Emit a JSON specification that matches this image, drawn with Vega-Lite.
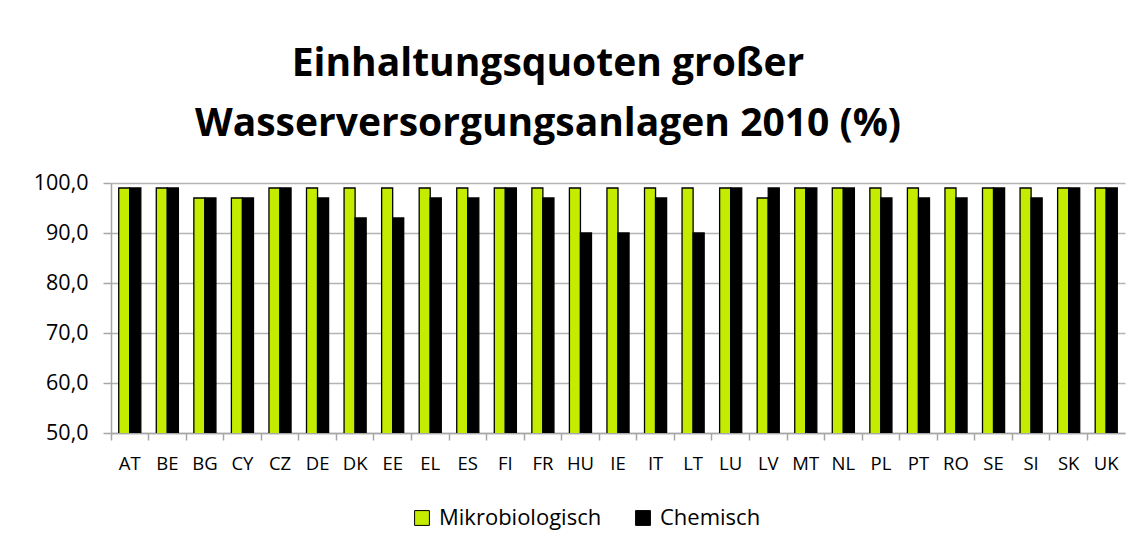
{
  "$schema": "https://vega.github.io/schema/vega-lite/v6.json",
  "width": 1014,
  "height": 250,
  "autosize": {"type": "none"},
  "padding": {"left": 111, "top": 183, "right": 18, "bottom": 116},
  "background": "white",
  "title": {
    "text": ["Einhaltungsquoten großer", "Wasserversorgungsanlagen 2010 (%)"],
    "font": "Open Sans",
    "fontSize": 39,
    "fontWeight": "bold",
    "color": "#000000",
    "anchor": "middle",
    "dx": -70,
    "offset": 28,
    "lineHeight": 60
  },
  "data": {
    "values": [
      {"land": "AT", "typ": "Mikrobiologisch", "wert": 99},
      {"land": "AT", "typ": "Chemisch", "wert": 99},
      {"land": "BE", "typ": "Mikrobiologisch", "wert": 99},
      {"land": "BE", "typ": "Chemisch", "wert": 99},
      {"land": "BG", "typ": "Mikrobiologisch", "wert": 97},
      {"land": "BG", "typ": "Chemisch", "wert": 97},
      {"land": "CY", "typ": "Mikrobiologisch", "wert": 97},
      {"land": "CY", "typ": "Chemisch", "wert": 97},
      {"land": "CZ", "typ": "Mikrobiologisch", "wert": 99},
      {"land": "CZ", "typ": "Chemisch", "wert": 99},
      {"land": "DE", "typ": "Mikrobiologisch", "wert": 99},
      {"land": "DE", "typ": "Chemisch", "wert": 97},
      {"land": "DK", "typ": "Mikrobiologisch", "wert": 99},
      {"land": "DK", "typ": "Chemisch", "wert": 93},
      {"land": "EE", "typ": "Mikrobiologisch", "wert": 99},
      {"land": "EE", "typ": "Chemisch", "wert": 93},
      {"land": "EL", "typ": "Mikrobiologisch", "wert": 99},
      {"land": "EL", "typ": "Chemisch", "wert": 97},
      {"land": "ES", "typ": "Mikrobiologisch", "wert": 99},
      {"land": "ES", "typ": "Chemisch", "wert": 97},
      {"land": "FI", "typ": "Mikrobiologisch", "wert": 99},
      {"land": "FI", "typ": "Chemisch", "wert": 99},
      {"land": "FR", "typ": "Mikrobiologisch", "wert": 99},
      {"land": "FR", "typ": "Chemisch", "wert": 97},
      {"land": "HU", "typ": "Mikrobiologisch", "wert": 99},
      {"land": "HU", "typ": "Chemisch", "wert": 90},
      {"land": "IE", "typ": "Mikrobiologisch", "wert": 99},
      {"land": "IE", "typ": "Chemisch", "wert": 90},
      {"land": "IT", "typ": "Mikrobiologisch", "wert": 99},
      {"land": "IT", "typ": "Chemisch", "wert": 97},
      {"land": "LT", "typ": "Mikrobiologisch", "wert": 99},
      {"land": "LT", "typ": "Chemisch", "wert": 90},
      {"land": "LU", "typ": "Mikrobiologisch", "wert": 99},
      {"land": "LU", "typ": "Chemisch", "wert": 99},
      {"land": "LV", "typ": "Mikrobiologisch", "wert": 97},
      {"land": "LV", "typ": "Chemisch", "wert": 99},
      {"land": "MT", "typ": "Mikrobiologisch", "wert": 99},
      {"land": "MT", "typ": "Chemisch", "wert": 99},
      {"land": "NL", "typ": "Mikrobiologisch", "wert": 99},
      {"land": "NL", "typ": "Chemisch", "wert": 99},
      {"land": "PL", "typ": "Mikrobiologisch", "wert": 99},
      {"land": "PL", "typ": "Chemisch", "wert": 97},
      {"land": "PT", "typ": "Mikrobiologisch", "wert": 99},
      {"land": "PT", "typ": "Chemisch", "wert": 97},
      {"land": "RO", "typ": "Mikrobiologisch", "wert": 99},
      {"land": "RO", "typ": "Chemisch", "wert": 97},
      {"land": "SE", "typ": "Mikrobiologisch", "wert": 99},
      {"land": "SE", "typ": "Chemisch", "wert": 99},
      {"land": "SI", "typ": "Mikrobiologisch", "wert": 99},
      {"land": "SI", "typ": "Chemisch", "wert": 97},
      {"land": "SK", "typ": "Mikrobiologisch", "wert": 99},
      {"land": "SK", "typ": "Chemisch", "wert": 99},
      {"land": "UK", "typ": "Mikrobiologisch", "wert": 99},
      {"land": "UK", "typ": "Chemisch", "wert": 99}
    ]
  },
  "mark": {"type": "bar", "stroke": "#000000", "strokeWidth": 1.3, "clip": true},
  "encoding": {
    "x": {
      "field": "land",
      "type": "nominal",
      "sort": null,
      "scale": {"paddingInner": 0, "paddingOuter": 0},
      "axis": {
        "title": null,
        "labelAngle": 0,
        "labelFont": "Open Sans",
        "labelFontSize": 18.5,
        "labelColor": "#000000",
        "labelPadding": 14,
        "bandPosition": 0,
        "tickColor": "#a6a6a6",
        "tickWidth": 1.5,
        "tickSize": 7,
        "domainColor": "#a6a6a6",
        "domainWidth": 1.5,
        "grid": false
      }
    },
    "xOffset": {
      "field": "typ",
      "type": "nominal",
      "sort": ["Mikrobiologisch", "Chemisch"],
      "scale": {"paddingInner": 0, "paddingOuter": 0.7}
    },
    "y": {
      "field": "wert",
      "type": "quantitative",
      "scale": {"domain": [50, 100], "zero": false, "nice": false},
      "axis": {
        "title": null,
        "values": [50, 60, 70, 80, 90, 100],
        "labelExpr": "replace(format(datum.value, '.1f'), '.', ',')",
        "labelFont": "Open Sans",
        "labelFontSize": 21.5,
        "labelColor": "#000000",
        "labelPadding": 15,
        "tickColor": "#a6a6a6",
        "tickWidth": 1.5,
        "tickSize": 8,
        "domainColor": "#a6a6a6",
        "domainWidth": 1.5,
        "gridColor": "#b4b4b4",
        "gridWidth": 1.5
      }
    },
    "color": {
      "field": "typ",
      "type": "nominal",
      "sort": ["Mikrobiologisch", "Chemisch"],
      "scale": {"domain": ["Mikrobiologisch", "Chemisch"], "range": ["#c4ec00", "#000000"]},
      "legend": {
        "title": null,
        "orient": "none",
        "direction": "horizontal",
        "legendX": 300,
        "legendY": 324,
        "symbolType": "square",
        "symbolSize": 220,
        "symbolStrokeColor": "#000000",
        "symbolStrokeWidth": 1,
        "labelFont": "Open Sans",
        "labelFontSize": 22,
        "labelLimit": 400,
        "labelColor": "#000000",
        "labelOffset": 6,
        "columnPadding": 30
      }
    }
  },
  "config": {"view": {"stroke": null}}
}
